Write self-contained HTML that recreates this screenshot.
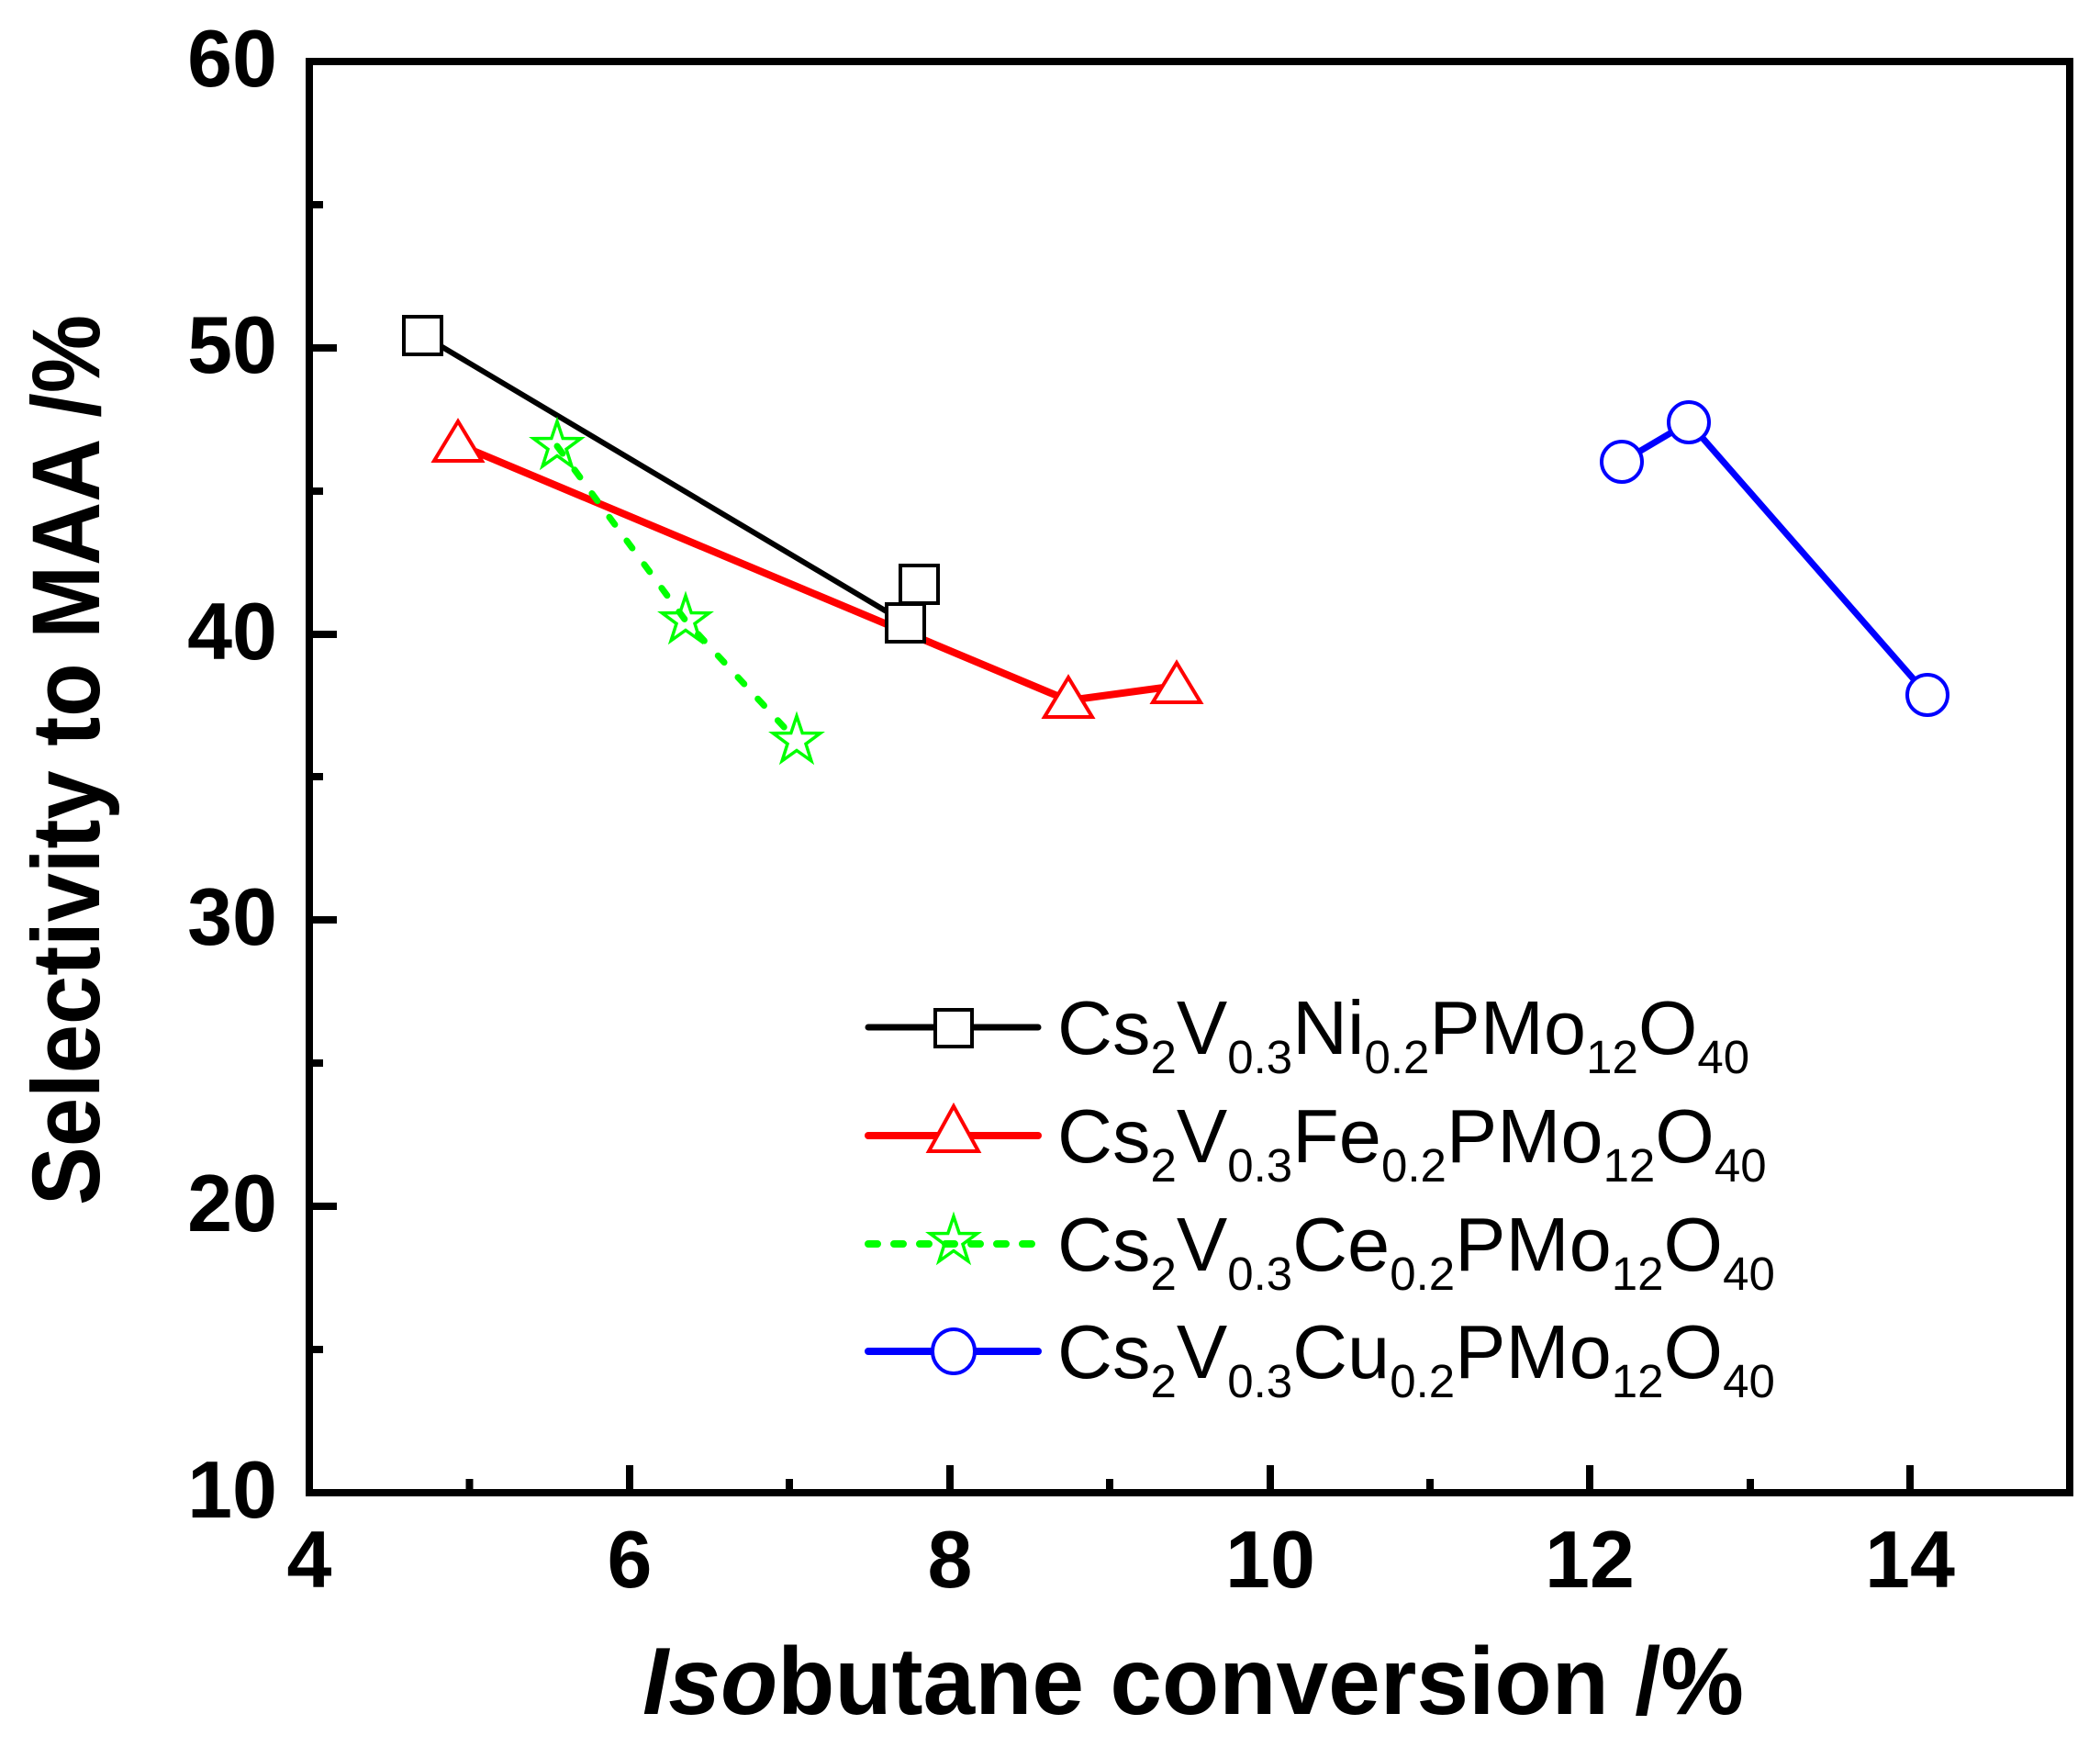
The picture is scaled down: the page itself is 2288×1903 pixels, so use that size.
<!DOCTYPE html>
<html><head><meta charset="utf-8"><style>html,body{margin:0;padding:0;background:#fff}svg{display:block}</style></head>
<body>
<svg width="2288" height="1903" viewBox="0 0 2288 1903" xmlns="http://www.w3.org/2000/svg" font-family="'Liberation Sans', Arial, sans-serif">
<defs>
<g id="star"><polygon points="0,-27 6.2,-8.5 25.7,-8.3 10,3.3 15.9,21.8 0,10.5 -15.9,21.8 -10,3.3 -25.7,-8.3 -6.2,-8.5" fill="none" stroke="#00ff00" stroke-width="3.5"/></g>
</defs>
<rect x="337" y="67" width="1918" height="1559" fill="none" stroke="#000" stroke-width="8"/>
<g stroke="#000" stroke-width="8">
<path d="M686,1622V1596M1035,1622V1596M1384,1622V1596M1732,1622V1596M2081,1622V1596"/>
<path d="M511.5,1622V1611M860,1622V1611M1209,1622V1611M1558,1622V1611M1907,1622V1611"/>
<path d="M341,1314H367M341,1002H367M341,691H367M341,379H367"/>
<path d="M341,1470H352M341,1158H352M341,846H352M341,535H352M341,223H352"/>
</g>
<g font-size="88" font-weight="bold" text-anchor="middle">
<text x="337" y="1729">4</text><text x="686" y="1729">6</text><text x="1035" y="1729">8</text>
<text x="1384" y="1729">10</text><text x="1732" y="1729">12</text><text x="2081" y="1729">14</text>
</g>
<g font-size="88" font-weight="bold" text-anchor="end">
<text x="302" y="1653">10</text><text x="302" y="1341">20</text><text x="302" y="1029">30</text>
<text x="302" y="718">40</text><text x="302" y="406">50</text><text x="302" y="94">60</text>
</g>
<text x="1300" y="1867" font-size="104" font-weight="bold" text-anchor="middle" textLength="1200" lengthAdjust="spacingAndGlyphs"><tspan font-style="italic">Iso</tspan>butane conversion /%</text>
<text transform="translate(108,828) rotate(-90)" font-size="105" font-weight="bold" text-anchor="middle" textLength="970" lengthAdjust="spacingAndGlyphs">Selectivity to MAA /%</text>

<polyline points="460,365 986,678 1001,636" fill="none" stroke="#000" stroke-width="6"/>
<polyline points="499,484 1164,763 1282,747" fill="none" stroke="#ff0000" stroke-width="8"/>
<polyline points="607,486 747,676 868,807" fill="none" stroke="#00ff00" stroke-width="7" stroke-dasharray="10,22" stroke-linecap="round"/>
<polyline points="1767,503 1840,460 2100,757" fill="none" stroke="#0000ff" stroke-width="7"/>
<g fill="#fff" stroke="#000" stroke-width="4">
<rect x="440" y="345" width="41" height="41"/><rect x="966" y="658" width="41" height="41"/><rect x="981" y="616" width="41" height="41"/>
</g>
<g fill="#fff" stroke="#ff0000" stroke-width="4">
<polygon points="499,459 473,502 525,502"/><polygon points="1164,738 1138,781 1190,781"/><polygon points="1282,722 1256,765 1308,765"/>
</g>
<use href="#star" x="607" y="486"/><use href="#star" x="747" y="676"/><use href="#star" x="868" y="807"/>
<g fill="#fff" stroke="#0000ff" stroke-width="4">
<circle cx="1767" cy="503" r="22"/><circle cx="1840" cy="460" r="22"/><circle cx="2100" cy="757" r="22"/>
</g>

<line x1="946" y1="1119" x2="1131" y2="1119" stroke="#000" stroke-width="7" stroke-linecap="round"/>
<rect x="1019" y="1100" width="40" height="40" fill="#fff" stroke="#000" stroke-width="4"/>
<line x1="946" y1="1237" x2="1131" y2="1237" stroke="#ff0000" stroke-width="8" stroke-linecap="round"/>
<polygon points="1039,1205 1012,1254 1066,1254" fill="#fff" stroke="#ff0000" stroke-width="4"/>
<line x1="946" y1="1355" x2="1131" y2="1355" stroke="#00ff00" stroke-width="8" stroke-dasharray="10,18" stroke-linecap="round"/>
<use href="#star" x="1039" y="1352"/>
<line x1="946" y1="1472" x2="1131" y2="1472" stroke="#0000ff" stroke-width="8" stroke-linecap="round"/>
<ellipse cx="1039" cy="1472" rx="23" ry="24" fill="#fff" stroke="#0000ff" stroke-width="4"/>

<g font-size="83">
<text x="1152" y="1148">Cs<tspan font-size="51" dy="21">2</tspan><tspan dy="-21">V</tspan><tspan font-size="51" dy="21">0.3</tspan><tspan dy="-21">Ni</tspan><tspan font-size="51" dy="21">0.2</tspan><tspan dy="-21">PMo</tspan><tspan font-size="51" dy="21">12</tspan><tspan dy="-21">O</tspan><tspan font-size="51" dy="21">40</tspan></text>
<text x="1152" y="1266">Cs<tspan font-size="51" dy="21">2</tspan><tspan dy="-21">V</tspan><tspan font-size="51" dy="21">0.3</tspan><tspan dy="-21">Fe</tspan><tspan font-size="51" dy="21">0.2</tspan><tspan dy="-21">PMo</tspan><tspan font-size="51" dy="21">12</tspan><tspan dy="-21">O</tspan><tspan font-size="51" dy="21">40</tspan></text>
<text x="1152" y="1384">Cs<tspan font-size="51" dy="21">2</tspan><tspan dy="-21">V</tspan><tspan font-size="51" dy="21">0.3</tspan><tspan dy="-21">Ce</tspan><tspan font-size="51" dy="21">0.2</tspan><tspan dy="-21">PMo</tspan><tspan font-size="51" dy="21">12</tspan><tspan dy="-21">O</tspan><tspan font-size="51" dy="21">40</tspan></text>
<text x="1152" y="1501">Cs<tspan font-size="51" dy="21">2</tspan><tspan dy="-21">V</tspan><tspan font-size="51" dy="21">0.3</tspan><tspan dy="-21">Cu</tspan><tspan font-size="51" dy="21">0.2</tspan><tspan dy="-21">PMo</tspan><tspan font-size="51" dy="21">12</tspan><tspan dy="-21">O</tspan><tspan font-size="51" dy="21">40</tspan></text>
</g>
</svg>
</body></html>
